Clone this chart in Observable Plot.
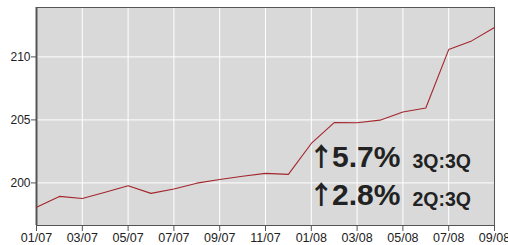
<!DOCTYPE html>
<html>
<head>
<meta charset="utf-8">
<script src="https://cdn.jsdelivr.net/npm/d3@7"></script>
<script src="https://cdn.jsdelivr.net/npm/@observablehq/plot@0.6"></script>
<style>
  html, body { margin: 0; padding: 0; background: #fff; }
  svg { display: block; font-family: "Liberation Sans", Arial, sans-serif; }
</style>
</head>
<body>
<div id="chart"></div>
<script>
// Month labels (monthly observations, Jan 2007 – Sep 2008)
const months = ["01/07","02/07","03/07","04/07","05/07","06/07","07/07","08/07","09/07","10/07","11/07","12/07",
                "01/08","02/08","03/08","04/08","05/08","06/08","07/08","08/08","09/08"];
// Index values
const values = [198.07, 198.93, 198.76, 199.26, 199.77, 199.17, 199.52, 199.98, 200.27, 200.53, 200.76, 200.68,
                203.13, 204.79, 204.77, 204.98, 205.63, 205.95, 210.58, 211.27, 212.33];
const yTicks = [200, 205, 210];
const xTickIdx = [0, 2, 4, 6, 8, 10, 12, 14, 16, 18, 20];

// Annotation lines
const annoArrow = ["↑", "↑"];
const annoBig = ["5.7%", "2.8%"];
const annoSmall = ["3Q:3Q", "2Q:3Q"];
const annoX = [12.14, 12.14];
const annoY = [202.01, 198.97];

const data = months.map((m, i) => ({i, label: m, value: values[i]}));
const annos = annoBig.map((b, k) => ({arrow: annoArrow[k], big: b, small: annoSmall[k], x: annoX[k], y: annoY[k]}));

const chart = Plot.plot({
  width: 508,
  height: 245,
  marginLeft: 36,
  marginRight: 14,
  marginTop: 7,
  marginBottom: 20,
  style: {fontFamily: "'Liberation Sans', Arial, sans-serif", fontSize: "12px", color: "#222", background: "#fff"},
  x: {type: "linear", domain: [0, 20]},
  y: {domain: [196.62, 213.92]},
  marks: [
    Plot.frame({fill: "#d9d9d9", stroke: null}),
    Plot.gridX(xTickIdx, {stroke: "#fff", strokeOpacity: 1, strokeWidth: 1}),
    Plot.gridY(yTicks, {stroke: "#fff", strokeOpacity: 1, strokeWidth: 1}),
    Plot.frame({stroke: "#555", strokeWidth: 1}),
    Plot.ruleX([0], {stroke: "#555", strokeWidth: 2}),
    Plot.axisX(xTickIdx, {tickFormat: i => months[i], tickSize: 6, tickPadding: 2, stroke: "#555", fill: "#222", fontSize: 12.5}),
    Plot.axisY(yTicks, {tickSize: 5, tickPadding: 1, stroke: "#555", fill: "#222", fontSize: 12, label: null}),
    Plot.line(data, {x: "i", y: "value", stroke: "#a3262c", strokeWidth: 1.1}),
    Plot.text(annos, {x: "x", y: "y", text: "arrow", textAnchor: "middle", dx: 6.7, dy: 0, fontSize: 26, fontWeight: "bold", fontFamily: "'Noto Sans CJK SC'", fill: "#222"}),
    Plot.text(annos, {x: "x", y: "y", text: "big", textAnchor: "start", dx: 17.5, fontSize: 30, fontWeight: "bold", fill: "#222"}),
    Plot.text(annos, {x: "x", y: "y", text: "small", textAnchor: "start", dx: 98, dy: 3.7, fontSize: 19.5, fontWeight: "bold", fill: "#222", style: {letterSpacing: "1.8px"}})
  ]
});
document.getElementById("chart").appendChild(chart);
</script>
</body>
</html>
